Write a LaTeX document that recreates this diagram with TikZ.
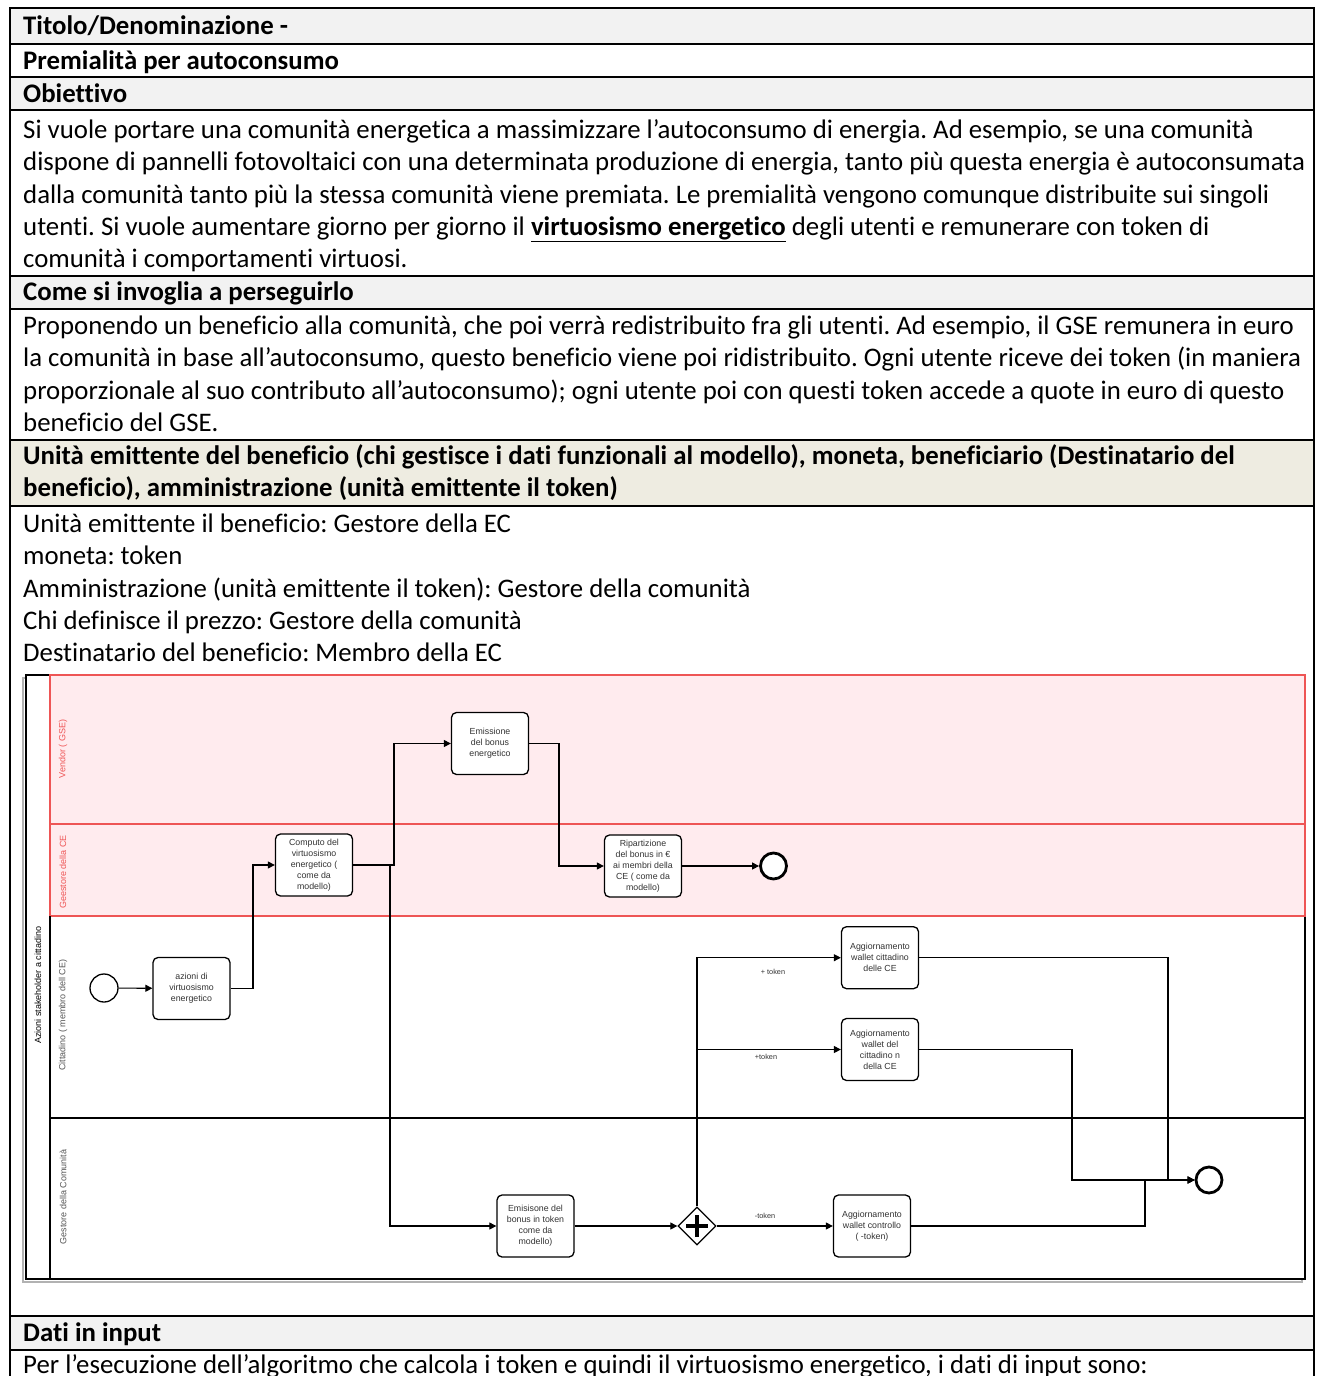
\documentclass[tikz,border=0pt]{standalone}
\usepackage{fontspec}
\setmainfont{Carlito}[Ligatures={NoCommon}]
\newfontfamily\diafont{Liberation Sans}
\usetikzlibrary{arrows.meta,shapes.geometric,calc}
\definecolor{hdrgray}{HTML}{F2F2F2}
\definecolor{hdrbeige}{HTML}{EEECE1}
\definecolor{lanepink}{HTML}{FFEBEE}
\definecolor{lanered}{HTML}{EE5555}
\definecolor{diatext}{HTML}{333333}
\definecolor{lanegray}{HTML}{555555}
\frenchspacing
\begin{document}
\begin{tikzpicture}[x=1pt,y=-1pt,
 txt/.style={anchor=base west, inner sep=0pt, font=\fontsize{26.8}{32}\selectfont},
 btxt/.style={anchor=base west, inner sep=0pt, font=\fontsize{26.8}{32}\selectfont\bfseries},
 rowline/.style={line width=1.6pt},
 task/.style={draw=black, line width=1.3pt, rounded corners=5pt, fill=white, minimum width=77pt, minimum height=62pt, align=center, font=\diafont\fontsize{8.8}{11}\selectfont, text=diatext, inner sep=1pt},
 startev/.style={circle, draw=black, line width=1.3pt, fill=white, minimum size=28pt, inner sep=0pt},
 endev/.style={circle, draw=black, line width=2.8pt, fill=white, minimum size=26pt, inner sep=0pt},
 gateway/.style={diamond, draw=black, line width=1.3pt, fill=white, minimum width=38pt, minimum height=38pt, inner sep=0pt},
 flow/.style={draw=black, line width=1.1pt, -{Triangle[length=7pt,width=7pt]}},
 flowlbl/.style={font=\diafont\fontsize{7.3}{8}\selectfont, text=diatext, inner sep=0pt},
 lanelbl/.style={rotate=90, font=\diafont\fontsize{9}{10}\selectfont, inner sep=0pt},
]
\useasboundingbox (0,0) rectangle (1324,1376);
\fill[white] (0,0) rectangle (1324,1376);

% ---------- table fills ----------
\fill[hdrgray] (10,8) rectangle (1314,44);
\fill[hdrgray] (10,77) rectangle (1314,110);
\fill[hdrgray] (10,276) rectangle (1314,309);
\fill[hdrbeige] (10,440) rectangle (1314,506);
\fill[hdrgray] (10,1316) rectangle (1314,1350);

% ---------- table borders ----------
\draw[rowline] (10,1380) -- (10,8) -- (1314,8) -- (1314,1380);
\foreach \yy in {44,77,110,276,309,440,506,1316,1350}
  \draw[rowline] (10,\yy) -- (1314,\yy);

% ---------- table text ----------
\node[btxt] (r1) at (23,34.5) {Titolo/Denominazione -};
\node[btxt] (r2) at (23,69.5) {Premialità per autoconsumo};
\node[btxt] (r3) at (23,102.5) {Obiettivo};
\node[txt] (r4a) at (23,138.5) {Si vuole portare una comunità energetica a massimizzare l’autoconsumo di energia. Ad esempio, se una comunità};
\node[txt] (r4b) at (23,170.8) {dispone di pannelli fotovoltaici con una determinata produzione di energia, tanto più questa energia è autoconsumata};
\node[txt] (r4c) at (23,203.1) {dalla comunità tanto più la stessa comunità viene premiata. Le premialità vengono comunque distribuite sui singoli};
\node[txt] (r4d) at (23,235.4) {utenti. Si vuole aumentare giorno per giorno il \underline{\textbf{virtuosismo energetico}} degli utenti e remunerare con token di};
\node[txt] (r4e) at (23,267.7) {comunità i comportamenti virtuosi.};
\node[btxt] (r5) at (23,300.5) {Come si invoglia a perseguirlo};
\node[txt] (r6a) at (23,334.5) {Proponendo un beneficio alla comunità, che poi verrà redistribuito fra gli utenti. Ad esempio, il GSE remunera in euro};
\node[txt] (r6b) at (23,366.8) {la comunità in base all’autoconsumo, questo beneficio viene poi ridistribuito. Ogni utente riceve dei token (in maniera};
\node[txt] (r6c) at (23,399.1) {proporzionale al suo contributo all’autoconsumo); ogni utente poi con questi token accede a quote in euro di questo};
\node[txt] (r6d) at (23,431.4) {beneficio del GSE.};
\node[btxt] (r7a) at (23,464.5) {Unità emittente del beneficio (chi gestisce i dati funzionali al modello), moneta, beneficiario (Destinatario del};
\node[btxt] (r7b) at (23,496.8) {beneficio), amministrazione (unità emittente il token)};
\node[txt] (r8a) at (23,532.5) {Unità emittente il beneficio: Gestore della EC};
\node[txt] (r8b) at (23,564.8) {moneta: token};
\node[txt] (r8c) at (23,597.1) {Amministrazione (unità emittente il token): Gestore della comunità};
\node[txt] (r8d) at (23,629.4) {Chi definisce il prezzo: Gestore della comunità};
\node[txt] (r8e) at (23,661.7) {Destinatario del beneficio: Membro della EC};
\node[btxt] (r9) at (23,1341.5) {Dati in input};
\node[txt] (r10) at (23,1373.5) {Per l’esecuzione dell’algoritmo che calcola i token e quindi il virtuosismo energetico, i dati di input sono:};

% ---------- BPMN pool ----------
\draw[gray!60, line width=1.2pt] (23,678) rectangle (1302,1282);
\draw[black, line width=1.4pt, fill=white] (26,675) rectangle (1305,1279);
\fill[lanepink] (50,675) rectangle (1305,916);
\draw[lanered, line width=1.2pt] (50,675) rectangle (1305,824);
\draw[lanered, line width=1.2pt] (50,824) rectangle (1305,916);
\draw[black, line width=1.2pt] (50,916) -- (50,1279);
\draw[black, line width=1.2pt] (50,1118) -- (1305,1118);

\node[lanelbl, text=black] (pool) at (38,985) {Azioni stakeholder a cittadino};
\node[lanelbl, text=lanered] (l1) at (63,749) {Vendor ( GSE)};
\node[lanelbl, text=lanered] (l2) at (63,872) {Geestore della CE};
\node[lanelbl, text=lanegray] (l3) at (63,1015) {Cittadino ( membro dell CE)};
\node[lanelbl, text=lanegray] (l4) at (63,1197) {Gestore della Comunità};

% ---------- BPMN nodes ----------
\node[startev] (start) at (104,988) {};
\node[task] (azioni) at (191.5,988.5) {azioni di\\virtuosismo\\energetico};
\node[task] (computo) at (314,865) {Computo del\\virtuosismo\\energetico (\\come da\\modello)};
\node[task] (emis1) at (490,743.5) {Emissione\\del bonus\\energetico};
\node[task] (ripart) at (643,866) {Ripartizione\\del bonus in €\\ai membri della\\CE ( come da\\modello)};
\node[endev] (end1) at (773.5,866) {};
\node[task] (emistok) at (535.5,1226) {Emisisone del\\bonus in token\\come da\\modello)};
\node[gateway] (gw) at (697,1226) {};
\draw[line width=3.8pt] ($(gw.center)+(-11,0)$) -- ($(gw.center)+(11,0)$);
\draw[line width=3.8pt] ($(gw.center)+(0,-11)$) -- ($(gw.center)+(0,11)$);
\node[task] (w1) at (880,957.7) {Aggiornamento\\wallet cittadino\\delle CE};
\node[task] (w2) at (880,1049.5) {Aggiornamento\\wallet del\\cittadino n\\della CE};
\node[task] (w3) at (872,1226) {Aggiornamento\\wallet controllo\\( -token)};
\node[endev] (end2) at (1209,1180) {};

% ---------- junction coordinates ----------
\coordinate (ja) at (253,988.5);
\coordinate (jb) at (394,865);
\coordinate (jc) at (390,865);
\coordinate (jd) at (559,743.5);
\coordinate (k1) at (1168,957.7);
\coordinate (k2) at (1072,1049.5);
\coordinate (k3) at (1145,1226);

% ---------- flows ----------
\draw[flow] (start) -- (azioni);
\draw[flow] (azioni.east) -- (ja) |- (computo.west);
\draw[flow] (computo.east) -- (jb) |- (emis1.west);
\draw[flow] (computo.east) -- (jc) |- (emistok.west);
\draw[flow] (emis1.east) -- (jd) |- (ripart.west);
\draw[flow] (ripart) -- (end1);
\draw[flow] (emistok) -- (gw);
\draw[flow] (gw.north) |- (w1.west);
\draw[flow] (gw.north |- w2.west) -- (w2.west);
\draw[flow] (gw) -- (w3);
\draw[flow] (w1.east) -- (k1) |- (end2.west);
\draw[flow] (w2.east) -- (k2) |- (end2.west);
\draw[flow] (w3.east) -- (k3) |- (end2.west);

\node[flowlbl] (lb1) at (773,972) {+ token};
\node[flowlbl] (lb2) at (766,1057) {+token};
\node[flowlbl] (lb3) at (765,1216) {-token};
\end{tikzpicture}
\end{document}
